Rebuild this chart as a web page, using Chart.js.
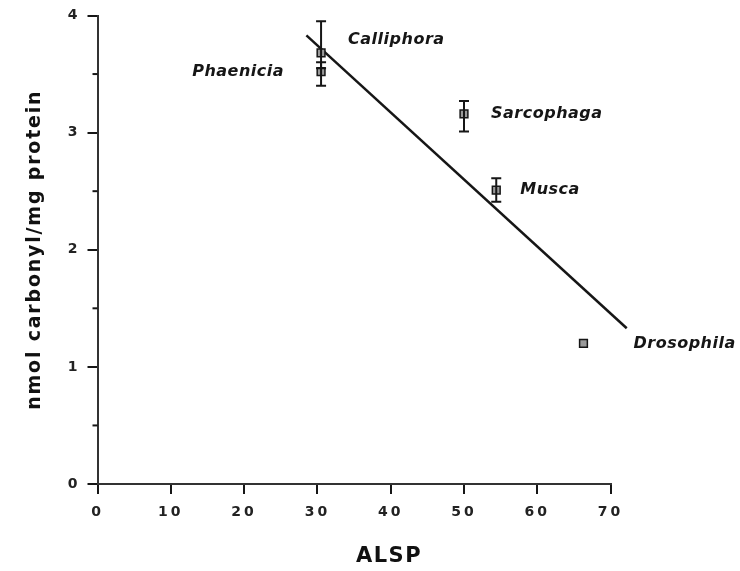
<!DOCTYPE html>
<html><head><meta charset="utf-8">
<script src="https://cdn.jsdelivr.net/npm/chart.js@4.4.1/dist/chart.umd.min.js"></script>
<style>html,body{margin:0;padding:0;background:#fff}#wrap{width:740px;height:571px}</style>
</head><body><div id="wrap"><canvas id="c" width="740" height="571"></canvas></div>
<script>
// ---- data ----
const species = ['Calliphora', 'Phaenicia', 'Sarcophaga', 'Musca', 'Drosophila'];
const alsp = [30.5, 30.5, 50, 54.4, 66.3];
const carbonyl = [3.68, 3.52, 3.16, 2.51, 1.20];
const errHigh = [3.95, 3.60, 3.27, 2.61, null];
const errLow = [3.55, 3.40, 3.01, 2.41, null];
const fitX = [28.5, 72.2];
const fitY = [3.83, 1.33];
const xTicks = [0, 10, 20, 30, 40, 50, 60, 70];
const yTicks = [0, 1, 2, 3, 4];
const yMinorTicks = [0.5, 1.5, 2.5, 3.5];

// ---- presentation ----
const labelPlacement = {
  Calliphora: {dx: 27, dy: -13, align: 'left'},
  Phaenicia: {dx: -37, dy: 0, align: 'right'},
  Sarcophaga: {dx: 27, dy: 0, align: 'left'},
  Musca: {dx: 24, dy: 0, align: 'left'},
  Drosophila: {dx: 50, dy: 0, align: 'left'}
};
const scaleStyle = {
  x: {ticks: '3px', title: '1.5px', titleShift: 35},
  y: {ticks: '3px', title: '1.8px', titleShift: 0}
};
const INK = '#161616';

const spacingPlugin = {
  id: 'spacing',
  beforeDraw(chart) {
    const ctx = chart.ctx;
    for (const [id, sp] of Object.entries(scaleStyle)) {
      const s = chart.scales[id];
      if (!s || s._spPatched) continue;
      const dl = s.drawLabels.bind(s), dt = s.drawTitle.bind(s);
      s.drawLabels = function (a) { ctx.save(); ctx.letterSpacing = sp.ticks; dl(a); ctx.restore(); };
      s.drawTitle = function () {
        ctx.save(); ctx.letterSpacing = sp.title; ctx.translate(sp.titleShift, 0); dt(); ctx.restore();
      };
      s._spPatched = true;
    }
  }
};

const errorBarPlugin = {
  id: 'errorBars',
  afterDatasetsDraw(chart) {
    const {ctx, scales: {x, y}} = chart;
    ctx.save();
    ctx.strokeStyle = INK;
    ctx.lineWidth = 2;
    alsp.forEach((v, i) => {
      if (errHigh[i] == null) return;
      const px = x.getPixelForValue(v);
      const top = y.getPixelForValue(errHigh[i]);
      const bot = y.getPixelForValue(errLow[i]);
      ctx.beginPath();
      ctx.moveTo(px, top); ctx.lineTo(px, bot);
      ctx.moveTo(px - 5, top); ctx.lineTo(px + 5, top);
      ctx.moveTo(px - 5, bot); ctx.lineTo(px + 5, bot);
      ctx.stroke();
    });
    ctx.restore();
  }
};

const labelPlugin = {
  id: 'speciesLabels',
  afterDraw(chart) {
    const {ctx, scales: {x, y}} = chart;
    ctx.save();
    ctx.font = 'italic bold 16px "DejaVu Sans"';
    ctx.letterSpacing = '0.5px';
    ctx.fillStyle = INK;
    ctx.textBaseline = 'middle';
    species.forEach((name, i) => {
      const p = labelPlacement[name];
      ctx.textAlign = p.align;
      ctx.fillText(name, x.getPixelForValue(alsp[i]) + p.dx, y.getPixelForValue(carbonyl[i]) + p.dy);
    });
    ctx.restore();
  }
};

const minorTickPlugin = {
  id: 'minorTicks',
  afterDraw(chart) {
    const {ctx, scales: {y}, chartArea} = chart;
    ctx.save();
    ctx.strokeStyle = INK;
    ctx.lineWidth = 2;
    yMinorTicks.forEach(v => {
      const py = y.getPixelForValue(v);
      ctx.beginPath();
      ctx.moveTo(chartArea.left - 5, py);
      ctx.lineTo(chartArea.left, py);
      ctx.stroke();
    });
    ctx.restore();
  }
};

const tickFont = {family: '"DejaVu Sans"', weight: 'bold', size: 14};

new Chart(document.getElementById('c'), {
  type: 'scatter',
  data: {
    datasets: [
      {
        label: 'Species',
        data: alsp.map((v, i) => ({x: v, y: carbonyl[i]})),
        pointStyle: 'rect',
        pointRadius: 5.5,
        pointBackgroundColor: '#9a9a9a',
        pointBorderColor: INK,
        pointBorderWidth: 1.5,
        order: 1
      },
      {
        label: 'Regression',
        data: fitX.map((v, i) => ({x: v, y: fitY[i]})),
        showLine: true,
        borderColor: INK,
        borderWidth: 2.5,
        pointRadius: 0,
        clip: false,
        order: 2
      }
    ]
  },
  options: {
    responsive: false,
    animation: false,
    layout: {padding: {left: 0, right: 129.4, top: 15.5, bottom: 0}},
    plugins: {legend: {display: false}, tooltip: {enabled: false}},
    scales: {
      x: {
        type: 'linear', position: 'bottom', min: 0, max: 70,
        afterBuildTicks: s => { s.ticks = xTicks.map(v => ({value: v})); },
        afterFit: s => { s.height = 87; },
        ticks: {font: tickFont, color: '#222', padding: 10, maxRotation: 0, autoSkip: false},
        grid: {drawOnChartArea: false, tickLength: 10, color: INK, lineWidth: 2},
        border: {color: '#333', width: 2},
        title: {display: true, text: 'ALSP', color: '#111',
          font: {family: '"DejaVu Sans"', weight: 'bold', size: 21}, padding: {top: 0, bottom: 2}}
      },
      y: {
        type: 'linear', position: 'left', min: 0, max: 4,
        afterBuildTicks: s => { s.ticks = yTicks.map(v => ({value: v})); },
        afterFit: s => { s.width = 97.5; },
        ticks: {font: tickFont, color: '#222', padding: 7},
        grid: {drawOnChartArea: false, tickLength: 10, color: INK, lineWidth: 2},
        border: {color: '#333', width: 2},
        title: {display: true, text: 'nmol carbonyl/mg protein', color: '#111',
          font: {family: '"DejaVu Sans"', weight: 'bold', size: 19}, padding: {top: 24, bottom: 0}}
      }
    }
  },
  plugins: [spacingPlugin, errorBarPlugin, labelPlugin, minorTickPlugin]
});
</script>
</body></html>
